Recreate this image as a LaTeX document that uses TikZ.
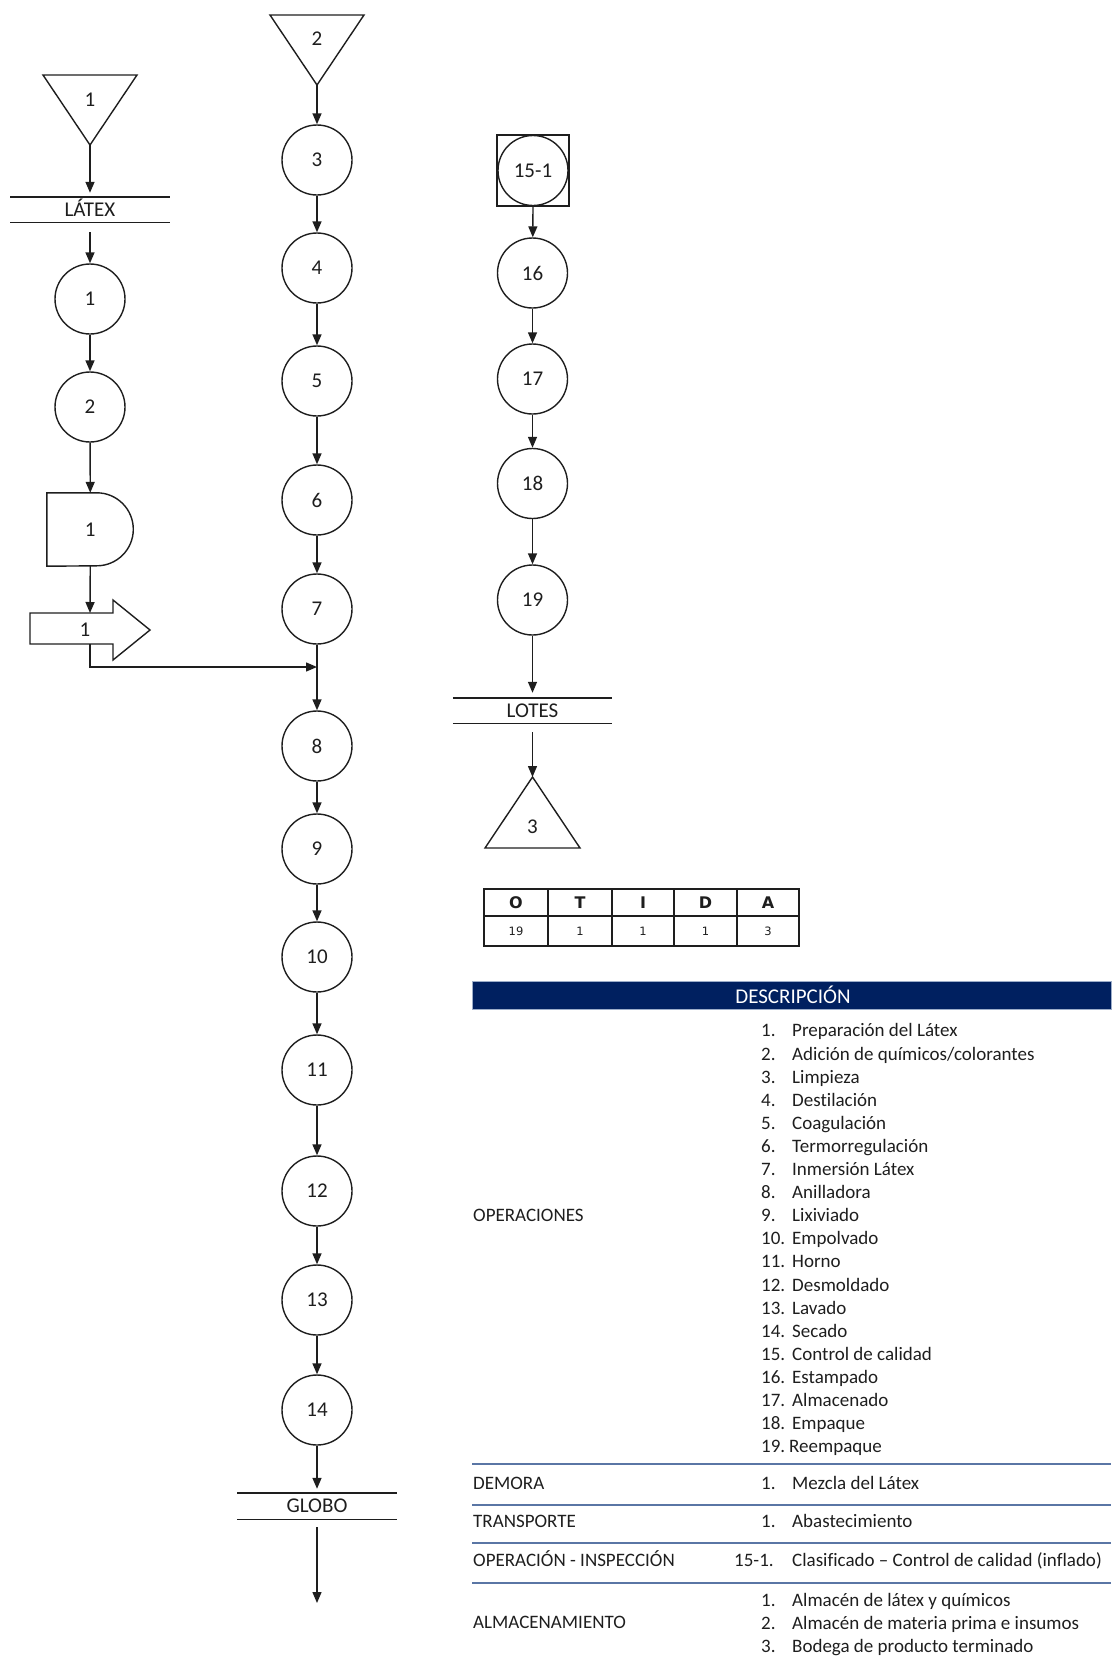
\documentclass[tikz,border=0pt]{standalone}
\usepackage{fontspec}
\setmainfont{Carlito}[Ligatures=NoCommon]
\newfontfamily\tabfont{DejaVu Sans}
\usetikzlibrary{arrows.meta}
\definecolor{ink}{RGB}{30,30,30}
\definecolor{navy}{RGB}{0,32,96}
\definecolor{rule}{RGB}{90,118,165}
\begin{document}
\begin{tikzpicture}[x=1pt,y=-1pt,
  line/.style={line width=1.4pt, draw=ink},
  flow/.style={line width=1.4pt, draw=ink, -{Triangle[width=9pt,length=11pt]}},
  op/.style={circle, draw=ink, line width=1.4pt, minimum size=70pt, inner sep=0pt,
    font=\fontsize{21}{24}\selectfont, text=ink},
  lbl/.style={inner sep=0pt, font=\fontsize{21}{24}\selectfont, text=ink,
    text height=14pt, text depth=0pt},
  band/.style={inner sep=0pt, minimum width=159pt, minimum height=25pt,
    font=\fontsize{21}{24}\selectfont, text=ink, text height=13pt, text depth=0pt},
  dtxt/.style={anchor=west, inner sep=0pt, font=\fontsize{19}{23}\selectfont, text=ink,
    text height=13.3pt, text depth=3.4pt},
  thd/.style={inner sep=0pt, font=\tabfont\bfseries\fontsize{16}{18}\selectfont, text=ink},
  tbd/.style={inner sep=0pt, font=\tabfont\fontsize{11.5}{13}\selectfont, text=ink},
]
\useasboundingbox (0,0) rectangle (1111,1673);

% ---------- left branch: raw latex ----------
\coordinate (s1a) at (90,145);
\draw[line] (43,75) -- (137,75) -- (s1a) -- cycle;
\node[lbl] (s1) at (90,99) {1};

\node[band] (latex) at (90,209.5) {LÁTEX};
\draw[line] (latex.north west) -- (latex.north east);
\draw[line] (latex.south west) -- (latex.south east);

\node[op] (o1) at (90,299) {1};
\node[op] (o2) at (90,407) {2};

% delay
\node[lbl, minimum width=86.5pt, minimum height=73pt] (d1) at (90.25,529.5) {1};
\draw[line] (d1.north west) -- ++(50,0) arc[start angle=90, end angle=-90, radius=36.5pt]
  -- (d1.south west) -- cycle;

% transport
\draw[line] (30,613) -- (113,613) -- (113,600) -- (150,630) -- (113,660) -- (113,644)
  -- (30,644) -- cycle;
\node[lbl] (tr1) at (85,629) {1};
\coordinate (tr1t) at (90,613);
\coordinate (tr1b) at (90,644);

\draw[flow, shorten >=4pt] (s1a) -- (latex.north);
\draw[flow, shorten <=10pt] (latex.south) -- (o1);
\draw[flow] (o1) -- (o2);
\draw[flow] (o2) -- (d1.north);
\draw[flow] (d1.south) -- (tr1t);

% ---------- main line ----------
\coordinate (s2a) at (317,85);
\draw[line] (270,15) -- (364,15) -- (s2a) -- cycle;
\node[lbl] (s2) at (317,38) {2};

\foreach \n/\y in {3/160,4/268,5/381,6/500,7/609,8/746,9/849,10/957,11/1070,12/1191,13/1300,14/1410}
  \node[op] (o\n) at (317,\y) {\n};

\coordinate (mj) at (317,667);
\draw[flow] (tr1b) |- (mj);

\draw[flow] (s2a) -- (o3);
\foreach \a/\b in {3/4,4/5,5/6,6/7,7/8,8/9,9/10,10/11,11/12,12/13,13/14}
  \draw[flow] (o\a) -- (o\b);

\node[band, minimum height=26pt] (globo) at (317,1506) {GLOBO};
\draw[line] (globo.north west) -- (globo.north east);
\draw[line] (globo.south west) -- (globo.south east);
\coordinate (gend) at (317,1603);
\draw[flow, shorten >=4pt] (o14) -- (globo.north);
\draw[flow, shorten <=8pt] (globo.south) -- (gend);

% ---------- right branch ----------
\node[draw=ink, line width=1.4pt, minimum width=72pt, minimum height=71pt, inner sep=0pt]
  (oi) at (533,170.5) {};
\node[op] (oic) at (oi) {15-1};
\foreach \n/\y in {16/273,17/379,18/483.5,19/600}
  \node[op] (o\n) at (532.5,\y) {\n};

\node[band] (lotes) at (532.5,710.5) {LOTES};
\draw[line] (lotes.north west) -- (lotes.north east);
\draw[line] (lotes.south west) -- (lotes.south east);

\coordinate (s3a) at (532.5,777);
\draw[line] (s3a) -- (580,848) -- (485,848) -- cycle;
\node[lbl] (s3) at (532.5,826) {3};

\draw[flow] (oi.south) -- (o16);
\draw[flow] (o16) -- (o17);
\draw[flow] (o17) -- (o18);
\draw[flow] (o18) -- (o19);
\draw[flow, shorten >=5pt] (o19) -- (lotes.north);
\draw[flow, shorten <=9pt] (lotes.south) -- (s3a);

% ---------- summary table ----------
\draw[line, line width=1.3pt] (484,889) rectangle (799,946);
\draw[line, line width=1.3pt] (484,916) -- (799,916);
\foreach \x in {548,612,674,737}
  \draw[line, line width=1.3pt] (\x,889) -- (\x,946);
\foreach \x/\h/\v [count=\i] in {516/O/19,580/T/1,643/I/1,705.5/D/1,768/A/3}{
  \node[thd] (h\i) at (\x,903) {\h};
  \node[tbd] (v\i) at (\x,931.5) {\v};
}

% ---------- description ----------
\fill[navy] (472,981) rectangle (1111,1009);
\draw[rule!60, line width=0.8pt] (472,981) rectangle (1111,1009);
\node[inner sep=0pt, font=\fontsize{21}{24}\selectfont, text=white] (dh) at (793,995) {DESCRIPCIÓN};

\node[dtxt] (lop) at (473,1217) {OPERACIONES};
\foreach \t [count=\i] in {Preparación del Látex, Adición de químicos/colorantes, Limpieza,
  Destilación, Coagulación, Termorregulación, Inmersión Látex, Anilladora, Lixiviado,
  Empolvado, Horno, Desmoldado, Lavado, Secado, Control de calidad, Estampado,
  Almacenado, Empaque}{
  \node[dtxt] (n\i) at (761,{1032+23.1*(\i-1)}) {\i.};
  \node[dtxt] (t\i) at (792,{1032+23.1*(\i-1)}) {\t};
}
\node[dtxt] (n19) at (761,1447.8) {19.};
\node[dtxt] (t19) at (789,1447.8) {Reempaque};

\foreach \y in {1464,1505,1543,1583}
  \draw[rule, line width=2.4pt] (472,\y) -- (1111,\y);

\node[dtxt] (lde) at (473,1485) {DEMORA};
\node[dtxt] (nde) at (761,1485) {1.};
\node[dtxt] (tde) at (792,1485) {Mezcla del Látex};

\node[dtxt] (ltr) at (473,1523) {TRANSPORTE};
\node[dtxt] (ntr) at (761,1523) {1.};
\node[dtxt] (ttr) at (792,1523) {Abastecimiento};

\node[dtxt] (loi) at (473,1562) {OPERACIÓN - INSPECCIÓN};
\node[dtxt] (noi) at (734,1562) {15-1.};
\node[dtxt] (toi) at (792,1562) {Clasificado – Control de calidad (inflado)};

\node[dtxt] (lal) at (473,1624) {ALMACENAMIENTO};
\node[dtxt] (na1) at (761,1602) {1.};
\node[dtxt] (ta1) at (792,1602) {Almacén de látex y químicos};
\node[dtxt] (na2) at (761,1625) {2.};
\node[dtxt] (ta2) at (792,1625) {Almacén de materia prima e insumos};
\node[dtxt] (na3) at (761,1648) {3.};
\node[dtxt] (ta3) at (792,1648) {Bodega de producto terminado};
\end{tikzpicture}
\end{document}
